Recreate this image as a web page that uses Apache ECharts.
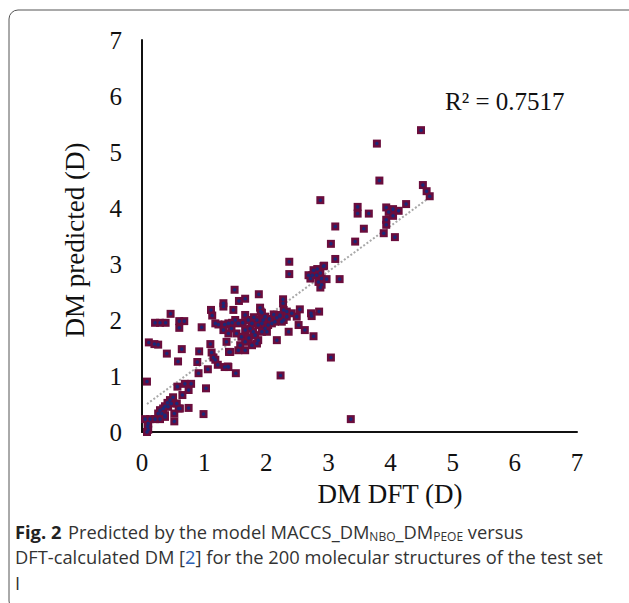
<!DOCTYPE html>
<html>
<head>
<meta charset="utf-8">
<script src="https://cdn.jsdelivr.net/npm/echarts@6/dist/echarts.min.js"></script>
<style>
html,body{margin:0;padding:0;background:#fff;}
#c{width:629px;height:603px;}
</style>
</head>
<body>
<div id="c"></div>
<script>
// DM DFT (D) values
var dmDFT = [
0.08,0.10,0.09,0.10,0.05,0.13,0.21,0.29,0.37,0.26,0.32,0.37,0.29,0.34,0.37,0.41,0.45,0.50,0.42,0.47,
0.56,0.59,0.52,0.75,0.61,0.52,0.99,0.08,0.57,0.69,0.79,0.65,0.75,1.03,0.91,1.06,0.58,0.89,0.40,0.64,
0.92,1.10,1.12,1.15,1.18,1.22,1.33,1.39,1.40,1.38,1.51,0.11,0.20,0.26,0.21,0.29,0.38,0.60,0.68,0.60,
0.46,0.96,1.13,1.18,1.23,1.33,1.39,1.31,1.11,1.31,1.31,1.47,1.49,1.88,1.66,1.56,
1.66,1.71,1.77,1.85,1.87,1.93,1.98,1.74,1.79,1.66,1.55,1.50,1.44,1.52,1.60,1.66,1.82,1.87,1.93,2.01,
1.77,1.85,1.58,1.55,1.66,1.42,1.36,1.39,1.90,1.93,1.98,1.91,2.28,2.33,2.22,2.17,2.33,2.41,2.49,2.14,
2.09,2.03,2.25,2.72,2.85,2.52,2.62,2.36,2.76,2.17,2.27,2.27,2.28,2.54,2.73,2.22,3.04,2.23,3.36,
1.45,1.62,1.72,2.05,1.95,1.80,2.12,
2.37,2.37,2.68,2.74,2.81,2.87,2.89,2.84,2.89,2.71,2.76,2.92,2.97,2.87,3.18,2.82,2.93,3.11,3.04,3.43,
3.11,3.57,3.89,4.07,3.93,3.93,3.93,3.97,4.04,4.13,4.04,4.25,3.47,3.47,3.65,2.87,3.82,3.78,4.49,4.52,
4.58,4.63
];
// DM predicted (D) values
var dmPred = [
0.00,0.04,0.10,0.15,0.23,0.23,0.23,0.23,0.27,0.33,0.33,0.30,0.39,0.42,0.46,0.52,0.57,0.62,0.45,0.51,
0.51,0.42,0.33,0.43,0.42,0.19,0.32,0.90,0.81,0.86,0.86,0.66,0.75,0.78,1.05,1.12,1.26,1.25,1.40,1.48,
1.44,1.57,1.42,1.33,1.29,1.20,1.16,1.16,1.43,1.17,1.05,1.60,1.57,1.56,1.95,1.95,1.95,1.98,1.98,1.86,
2.11,1.87,2.08,1.94,1.92,1.92,1.94,1.82,2.18,2.30,2.24,2.18,2.54,2.46,2.38,2.34,
2.09,2.00,1.94,2.00,1.91,1.94,1.85,1.85,1.79,1.82,1.94,2.00,1.85,1.76,1.70,1.61,1.73,1.64,1.79,1.79,
1.55,1.58,1.55,1.46,1.46,1.43,1.61,1.76,2.22,2.13,2.06,2.15,2.18,2.15,2.09,2.04,2.06,2.12,2.06,1.97,
1.94,1.91,1.97,2.12,2.15,1.91,1.82,1.79,1.71,1.64,2.37,2.30,2.00,2.19,2.07,2.07,1.33,1.01,0.23,
1.95,1.95,1.68,2.02,2.00,2.05,2.10,
3.04,2.82,2.80,2.80,2.80,2.84,2.74,2.68,2.63,2.74,2.89,2.96,2.73,2.58,2.73,2.91,2.97,3.09,3.36,3.40,
3.67,3.63,3.55,3.48,3.79,3.70,4.01,3.93,3.98,3.95,3.86,4.07,4.02,3.90,3.90,4.14,4.49,5.15,5.39,4.41,
4.30,4.21
];
// Trend line end points
var trendX = [0.08, 4.63];
var trendY = [0.50, 4.19];
var r2Label = 'R\u00b2 = 0.7517';
var xTitle = 'DM DFT (D)';
var yTitle = 'DM predicted (D)';

var pts = dmDFT.map(function(x,i){return [x, dmPred[i]];});
var trend = trendX.map(function(x,i){return [x, trendY[i]];});

var chart = echarts.init(document.getElementById('c'), null, {renderer:'svg'});
var serif = 'Liberation Serif';
var capFont = 'Open Sans';
var capSize = 18.3;
chart.setOption({
  animation:false,
  grid:{left:142, top:40, width:435, height:392, containLabel:false},
  xAxis:{type:'value', min:0, max:7, interval:1,
    axisLine:{show:true, lineStyle:{color:'#111', width:2}},
    axisTick:{show:false}, splitLine:{show:false},
    axisLabel:{color:'#111', fontFamily:serif, fontSize:25, margin:18}},
  yAxis:{type:'value', min:0, max:7, interval:1,
    axisLine:{show:true, lineStyle:{color:'#111', width:2}},
    axisTick:{show:false}, splitLine:{show:false},
    axisLabel:{color:'#111', fontFamily:serif, fontSize:25, margin:20}},
  series:[
    {type:'line', data:trend, symbol:'none', silent:true, z:3,
      lineStyle:{color:'#a8a8a8', width:2, type:[2,2]}},
    {type:'scatter', data:pts, symbol:'rect', symbolSize:8, z:4,
      itemStyle:{color:'#6a0d3c', opacity:1}},
    {type:'scatter', data:pts, symbol:'circle', symbolSize:3.5, z:5,
      itemStyle:{color:'#1a2878', opacity:1}}
  ],
  graphic:[
    {type:'rect', shape:{x:9, y:10, width:660, height:600, r:9}, z:-1,
      style:{fill:'none', stroke:'#555', lineWidth:1}},
    {type:'text', x:445, y:101, style:{text:r2Label, font:'25px "Liberation Serif"', fill:'#111', textVerticalAlign:'middle'}},
    {type:'text', x:390, y:494, style:{text:xTitle, font:'27px "Liberation Serif"', fill:'#111', textAlign:'center', textVerticalAlign:'middle'}},
    {type:'text', x:75, y:240, rotation:Math.PI/2, style:{text:yTitle, font:'27px "Liberation Serif"', fill:'#111', textAlign:'center', textVerticalAlign:'middle'}},
    {type:'text', x:15, y:531, style:{
      text:'{b|Fig. 2}  {n|Predicted by the model MACCS_DM}{s|NBO}{n|_DM}{s|PEOE}{n| versus}',
      textVerticalAlign:'middle',
      rich:{
        b:{fontFamily:capFont, fontSize:capSize, fontWeight:'bold', fill:'#222'},
        n:{fontFamily:capFont, fontSize:capSize, fill:'#333'},
        s:{fontFamily:capFont, fontSize:12, fill:'#333', padding:[10,0,0,0]}
      }}},
    {type:'text', x:15, y:556, style:{
      text:'{n|DFT-calculated DM [}{l|2}{n|] for the 200 molecular structures of the test set}',
      textVerticalAlign:'middle',
      rich:{
        n:{fontFamily:capFont, fontSize:capSize, fill:'#333'},
        l:{fontFamily:capFont, fontSize:capSize, fill:'#2b5fb4'}
      }}},
    {type:'text', x:15, y:582, style:{
      text:'{n|I}', textVerticalAlign:'middle',
      rich:{ n:{fontFamily:capFont, fontSize:capSize, fill:'#333'} }}}
  ]
});
</script>
</body>
</html>
